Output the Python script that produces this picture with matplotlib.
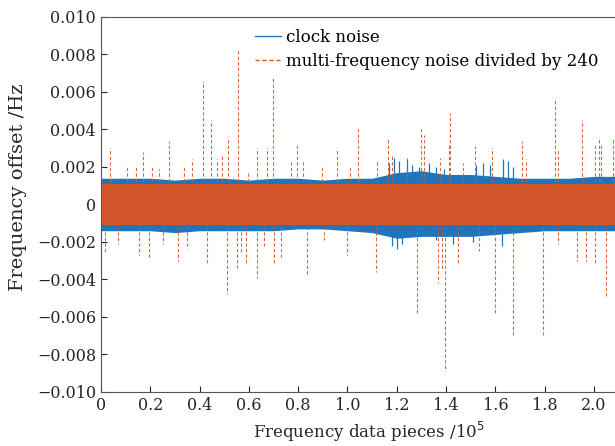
import matplotlib
matplotlib.use("Agg")
import matplotlib.pyplot as plt
from matplotlib.lines import Line2D

# envelope of the dense noise band, read every 0.1 (x 10^5 pieces)
env_x = [0.0, 0.1, 0.2, 0.3, 0.4, 0.5, 0.6, 0.7, 0.8, 0.9, 1.0,
         1.1, 1.2, 1.3, 1.4, 1.5, 1.6, 1.7, 1.8, 1.9, 2.0, 2.1]
clock_upper = [0.0014, 0.0014, 0.0014, 0.0013, 0.0014, 0.0014, 0.0013, 0.0014, 0.0014, 0.0013, 0.0014,
               0.0014, 0.0017, 0.0018, 0.0016, 0.0016, 0.0015, 0.0014, 0.0014, 0.0014, 0.0015, 0.0015]
clock_lower = [-0.0014, -0.0014, -0.0014, -0.0015, -0.0014, -0.0014, -0.0014, -0.0014, -0.0013, -0.0013, -0.0014,
               -0.0015, -0.0018, -0.0017, -0.0017, -0.0017, -0.0016, -0.0015, -0.0014, -0.0014, -0.0014, -0.0014]
multi_upper = [0.0011, 0.0011, 0.0011, 0.0011, 0.0011, 0.0011, 0.0011, 0.0011, 0.0011, 0.0011, 0.0011,
               0.0011, 0.0011, 0.0011, 0.0011, 0.0011, 0.0011, 0.0011, 0.0011, 0.0011, 0.0011, 0.0011]
multi_lower = [-0.0011, -0.0011, -0.0011, -0.0011, -0.0011, -0.0011, -0.0011, -0.0011, -0.0011, -0.0011, -0.0011,
               -0.0011, -0.0011, -0.0011, -0.0011, -0.0011, -0.0011, -0.0011, -0.0011, -0.0011, -0.0011, -0.0011]

# spikes sticking out of the band
clock_spike_x = [1.17, 1.19, 1.21, 1.24, 1.26, 1.29, 1.33, 1.36, 1.39, 1.52, 1.55, 1.58, 1.63, 1.65, 1.67,
                 1.18, 1.20, 1.22, 1.36, 1.43, 1.51, 1.625]
clock_spike_y = [0.0022, 0.0025, 0.0023, 0.0024, 0.0021, 0.0020, 0.0022, 0.0020, 0.0019, 0.0021, 0.0022, 0.0021, 0.0024, 0.0023, 0.0020,
                 -0.0022, -0.0024, -0.0021, -0.0019, -0.0021, -0.0020, -0.0022]

multi_spike_x = [0.037, 0.107, 0.142, 0.172, 0.206, 0.234, 0.277, 0.337, 0.368, 0.415, 0.446, 0.469, 0.49, 0.517,
                 0.557, 0.598, 0.634, 0.675, 0.696, 0.77, 0.794, 0.82, 0.895, 0.956, 1.01, 1.044, 1.118, 1.166,
                 1.18, 1.24, 1.30, 1.31, 1.375, 1.41, 1.415, 1.47, 1.517, 1.587, 1.71, 1.724, 1.842, 1.855,
                 1.95, 2.004, 2.022, 2.03, 2.078,
                 0.016, 0.07, 0.155, 0.195, 0.253, 0.314, 0.35, 0.429, 0.512, 0.55, 0.57, 0.587, 0.632, 0.662,
                 0.70, 0.73, 0.834, 0.906, 0.997, 1.116, 1.28, 1.369, 1.382, 1.395, 1.45, 1.535, 1.598, 1.673,
                 1.794, 1.855, 1.932, 1.967, 2.004, 2.049]
multi_spike_y = [0.0030, 0.0021, 0.0021, 0.0028, 0.0021, 0.0019, 0.0034, 0.0020, 0.0024, 0.0066, 0.0045, 0.0024, 0.0026, 0.0036,
                 0.0083, 0.0017, 0.0030, 0.0030, 0.0068, 0.0023, 0.0033, 0.0023, 0.0021, 0.0029, 0.0020, 0.0041, 0.0023, 0.0035,
                 0.0026, 0.0025, 0.0040, 0.0037, 0.0025, 0.0033, 0.0049, 0.0022, 0.0031, 0.0030, 0.0034, 0.0024, 0.0057, 0.0029,
                 0.0045, 0.0033, 0.0036, 0.0032, 0.0035,
                 -0.0026, -0.0021, -0.0027, -0.0028, -0.0021, -0.0030, -0.0024, -0.0031, -0.0048, -0.0034, -0.0026, -0.0031, -0.0039, -0.0022,
                 -0.0032, -0.0028, -0.0038, -0.0019, -0.0027, -0.0036, -0.0058, -0.0042, -0.0035, -0.0089, -0.0031, -0.0025, -0.0059, -0.0070,
                 -0.0070, -0.0021, -0.0030, -0.0030, -0.0032, -0.0049]

xticks = [0, 0.2, 0.4, 0.6, 0.8, 1.0, 1.2, 1.4, 1.6, 1.8, 2.0]
xticklabels = ['0', '0.2', '0.4', '0.6', '0.8', '1.0', '1.2', '1.4', '1.6', '1.8', '2.0']
yticks = [-0.010, -0.008, -0.006, -0.004, -0.002, 0, 0.002, 0.004, 0.006, 0.008, 0.010]
yticklabels = ['\u22120.010', '\u22120.008', '\u22120.006', '\u22120.004', '\u22120.002', '0',
               '0.002', '0.004', '0.006', '0.008', '0.010']

blue = '#1F74BA'
orange = '#D2562A'

plt.rcParams['font.family'] = ['DejaVu Serif']

fig = plt.figure(figsize=(6.15, 4.46), dpi=100)
ax = fig.add_axes([0.1642, 0.1211, 0.8417, 0.8408])

ax.fill_between(env_x, clock_lower, clock_upper, color=blue, lw=0, zorder=1)
ax.vlines(clock_spike_x, 0, clock_spike_y, colors=blue, lw=0.9, zorder=1.5)
ax.fill_between(env_x, multi_lower, multi_upper, color=orange, lw=0, zorder=2)
ax.vlines(multi_spike_x, 0, multi_spike_y, colors=orange, lw=0.8, alpha=0.9,
          linestyles=(0, (3, 2)), zorder=2.5)

ax.set_xlim(0, 2.1)
ax.set_ylim(-0.010, 0.010)
ax.set_xticks(xticks)
ax.set_xticklabels(xticklabels)
ax.set_yticks(yticks)
ax.set_yticklabels(yticklabels)
ax.tick_params(direction='in', length=4, labelsize=11.5, colors='#262626', top=False, right=False)
for s in ax.spines.values():
    s.set_color('#555555')
ax.set_xlabel('Frequency data pieces /10$^5$', fontsize=12, color='#262626')
ax.xaxis.set_label_coords(0.517, -0.075)
ax.set_ylabel('Frequency offset /Hz', fontsize=14, color='#262626')
ax.yaxis.set_label_coords(-0.142, 0.547)

handles = [Line2D([], [], color=blue, lw=1),
           Line2D([], [], color=orange, lw=1, linestyle=(0, (3, 2)))]
ax.legend(handles, ['clock noise', 'multi-frequency noise divided by 240'],
          loc='upper left', bbox_to_anchor=(0.297, 0.968), frameon=False,
          fontsize=12, handlelength=1.6, handletextpad=0.3, labelspacing=0.4,
          borderpad=0, borderaxespad=0)

fig.savefig('out.png', dpi=100)
